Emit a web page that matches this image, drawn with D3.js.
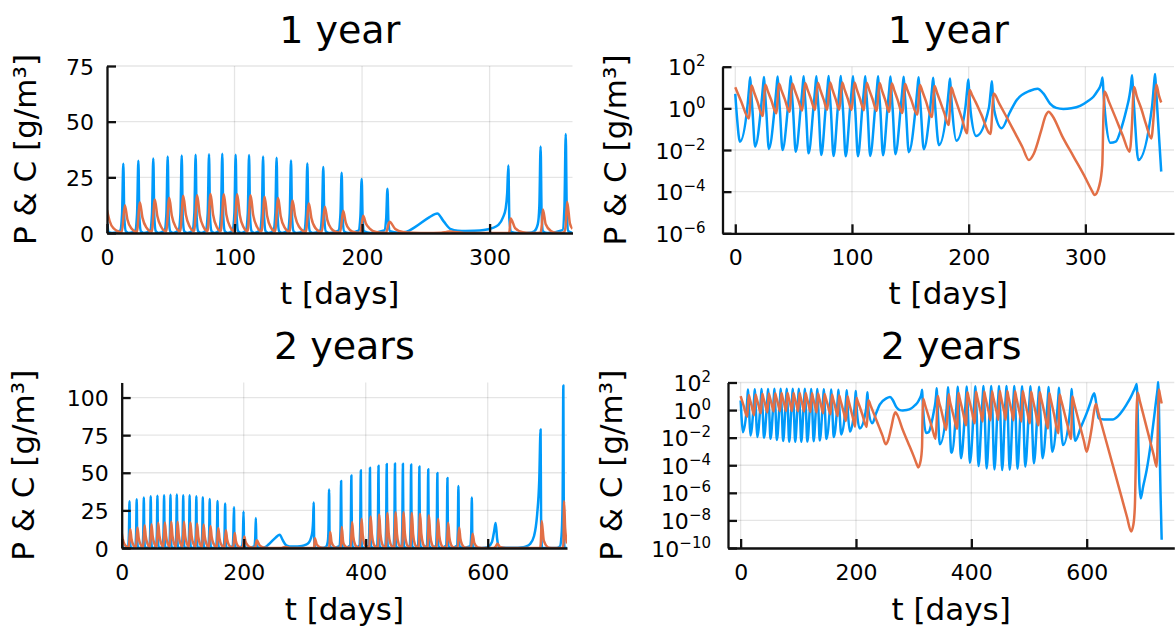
<!DOCTYPE html>
<html>
<head>
<meta charset="utf-8">
<script src="https://cdn.jsdelivr.net/npm/d3@7"></script>
<style>
  body { margin: 0; background: #fff; }
  svg { display: block; }
  text { font-family: "DejaVu Sans", sans-serif; fill: #000; }
</style>
</head>
<body>
<svg id="fig" width="1176" height="630"></svg>
<script>
// Prey P (blue) over two years: [day, g/m³]
const prey = [
  [0, 5], [1.5, 0.35], [4, 0.025],
  [10.3, 1.1], [11.8, 8.5], [12.8, 31.1], [13.6, 6.5], [14.8, 0.7], [17, 0.0145],
  [22.1, 1.1], [23.6, 9], [24.6, 32.4], [25.4, 7], [26.6, 0.7], [28.8, 0.0112],
  [33.8, 1.1], [35.3, 9], [36.3, 33.5], [37.1, 7], [38.3, 0.7], [40.5, 0.01],
  [45.1, 1.1], [46.6, 9], [47.6, 34.4], [48.4, 7], [49.6, 0.7], [51.8, 0.0083],
  [56.1, 1.1], [57.6, 9], [58.6, 34.8], [59.4, 7], [60.6, 0.7], [62.8, 0.0069],
  [67, 1.1], [68.5, 9], [69.5, 35.1], [70.3, 7], [71.5, 0.7], [73.7, 0.0058],
  [77.5, 1.1], [79, 9], [80, 35.4], [80.8, 7], [82, 0.7], [84.2, 0.0051],
  [87.9, 1.1], [89.4, 9], [90.4, 35.6], [91.2, 7], [92.4, 0.7], [94.6, 0.005],
  [98.4, 1.1], [99.9, 9], [100.9, 35.1], [101.7, 7], [102.9, 0.7], [105.1, 0.005],
  [108.9, 1.1], [110.4, 9], [111.4, 35], [112.2, 7], [113.4, 0.7], [115.6, 0.0052],
  [119.9, 1.1], [121.4, 9], [122.4, 34.4], [123.2, 7], [124.4, 0.7], [126.6, 0.0056],
  [130.5, 1.1], [132, 9], [133, 33.8], [133.8, 7], [135, 0.7], [137.2, 0.0063],
  [141.8, 1.1], [143.3, 9], [144.3, 32.6], [145.1, 7], [146.3, 0.7], [148.7, 0.0079],
  [154.6, 1.1], [156.1, 9], [157.1, 31.2], [157.9, 7], [159.1, 0.7], [161.5, 0.011],
  [167.1, 1.1], [168.6, 8.5], [169.6, 29.6], [170.4, 6.5], [171.6, 0.7], [174.5, 0.017],
  [181.5, 1.1], [183, 8], [184, 27.1], [184.8, 6], [186, 0.7], [189.5, 0.028],
  [197.2, 1.1], [198.7, 7.5], [199.7, 24.3], [200.5, 5.5], [201.7, 0.7], [206.5, 0.047],
  [217.4, 1.1], [218.9, 6.5], [219.9, 19.9], [220.7, 4.5], [221.9, 0.8], [228.3, 0.11],
  [235, 0.6], [241.2, 2.5], [252.6, 7], [259, 8.8], [264, 5.2], [269.7, 1.7], [275, 1.05],
  [281.1, 0.93], [288, 1.0], [295.5, 1.3], [302, 2.2], [306.9, 3.6], [310.5, 7], [312.6, 11],
  [313.8, 18], [314.7, 30.3], [315.5, 6], [317, 0.5], [321.5, 0.022],
  [326, 0.025], [331, 0.12], [335, 0.8], [337.8, 4], [339, 12], [340, 38.9], [340.8, 8], [342, 0.7], [345.4, 0.0033],
  [357.2, 1.3], [358.7, 12], [359.7, 44.5], [360.5, 10], [361.7, 0.8], [365, 0.00092], [366, 0.0008],
  [374, 1.5], [375.5, 13], [376.5, 48.2], [377.3, 10], [378.5, 1], [382, 0.00032],
  [389.5, 1.5], [391, 13], [392, 51.6], [392.8, 10], [394, 1], [397.5, 0.00015],
  [404.5, 1.5], [406, 14], [407, 53.4], [407.8, 11], [409, 1], [412.5, 0.000087],
  [418.5, 1.5], [420, 14], [421, 54.7], [421.8, 11], [423, 1], [426.5, 0.000059],
  [432, 1.5], [433.5, 14], [434.5, 55.8], [435.3, 11], [436.5, 1], [440, 0.00005],
  [445.5, 1.5], [447, 14], [448, 56.2], [448.8, 11], [450, 1], [453.5, 0.000045],
  [458.5, 1.5], [460, 14], [461, 56], [461.8, 11], [463, 1], [466.5, 0.000047],
  [472, 1.5], [473.5, 14], [474.5, 55.5], [475.3, 11], [476.5, 1], [480, 0.000056],
  [485.5, 1.5], [487, 14], [488, 54.2], [488.8, 11], [490, 1], [493.5, 0.000079],
  [500, 1.5], [501.5, 13], [502.5, 52.4], [503.3, 10], [504.5, 1], [508.5, 0.00014],
  [515, 1.5], [516.5, 13], [517.5, 49.8], [518.3, 10], [519.5, 1], [523.5, 0.00032],
  [531.5, 1.5], [533, 12], [534, 46.5], [534.8, 9], [536, 1], [540.5, 0.00095],
  [549.5, 1.5], [551, 11], [552, 41.2], [552.8, 8.5], [554, 1], [559, 0.0029],
  [571.5, 1.3], [573, 9.5], [574, 33.6], [574.8, 7], [576, 0.8], [580, 0.006],
  [590, 0.06], [600, 0.6], [607, 4], [610.5, 11], [613, 16.6], [615.5, 6], [618, 1], [621, 0.25],
  [630, 0.21], [645, 0.21], [654, 0.35], [662, 0.9], [669, 2.5], [676, 8], [681, 22], [684.5, 45],
  [686.7, 78.8], [687.5, 20], [689, 0.05], [691, 0.00001], [693.6, 4e-7], [698, 3e-6], [704, 4.5e-5],
  [712.7, 0.012], [718.4, 1], [721, 8], [722.8, 30], [724, 108], [724.8, 15], [726, 0.03],
  [728, 1e-6], [730, 4e-10]
];

// Predator C (orange) over two years: [day, g/m³]
const predator = [
  [0, 10.3], [2, 5.5], [5, 2.2], [11.6, 0.33],
  [14, 12.5], [16, 6.1], [19, 2.1], [23.4, 0.43],
  [25.8, 13.7], [27.8, 6.9], [30.8, 2.5], [35.1, 0.58],
  [37.5, 15.1], [39.5, 7.5], [42.5, 2.7], [46.4, 0.69],
  [48.8, 15.8], [50.8, 7.9], [53.8, 2.7], [57.4, 0.78],
  [59.8, 16.7], [61.8, 8.3], [64.8, 2.9], [68.3, 0.83],
  [70.7, 17], [72.7, 8.1], [75.7, 2.7], [78.8, 0.85],
  [81.2, 17.5], [83.2, 8.2], [86.2, 2.6], [89.2, 0.85],
  [91.6, 17.4], [93.6, 8.2], [96.6, 2.7], [99.7, 0.83],
  [102.1, 17.4], [104.1, 8.1], [107.1, 2.6], [110.2, 0.8],
  [112.6, 17], [114.6, 8.2], [117.6, 2.8], [121.2, 0.74],
  [123.6, 16.3], [125.6, 7.5], [128.6, 2.4], [131.8, 0.68],
  [134.2, 15.7], [136.2, 7.5], [139.2, 2.5], [143.1, 0.6],
  [145.5, 14.6], [147.5, 7.6], [150.5, 2.9], [155.9, 0.5],
  [158.3, 13.3], [160.3, 6.6], [163.3, 2.3], [168.4, 0.38],
  [170.8, 11.8], [172.8, 5.8], [175.8, 2.0], [179, 0.62], [182.8, 0.16],
  [185.2, 10], [187.2, 4.7], [190.2, 1.5], [194.2, 0.33], [198.5, 0.063],
  [200.9, 7.7], [202.9, 4.4], [206, 2.0], [210.9, 0.5], [218.7, 0.059],
  [221.5, 5.1], [226, 1.8], [232, 0.43], [240, 0.061], [246, 0.014], [251.6, 0.0033],
  [256, 0.007], [262, 0.08], [266, 0.45], [268.5, 0.69], [272, 0.42], [280, 0.048],
  [290, 0.0047], [300, 0.00046], [305, 0.00013], [308, 0.00007], [312, 0.0002], [314.5, 0.002],
  [315.5, 0.5], [316.5, 6.5], [320, 2.2], [326, 0.34], [332, 0.05], [337.9, 0.0083],
  [340, 0.2], [341, 4], [341.8, 10.6], [344, 3.9], [348, 0.93], [352, 0.17], [356.5, 0.036],
  [358.5, 0.4], [359.6, 3], [360.8, 14], [363, 4.2], [365, 1.9], [370, 0.28], [375.3, 0.045],
  [377.7, 17.3], [379.7, 7.6], [382.7, 2.2], [385.7, 0.64], [390.8, 0.079],
  [393.2, 19.5], [395.2, 8.6], [398.2, 2.5], [401.2, 0.73], [405.8, 0.11],
  [408.2, 21], [410.2, 9.0], [413.2, 2.5], [416.2, 0.7], [419.8, 0.15],
  [422.2, 22.2], [424.2, 9.3], [427.2, 2.5], [430.2, 0.7], [433.3, 0.18],
  [435.7, 23.2], [437.7, 9.8], [440.7, 2.7], [443.7, 0.75], [446.8, 0.2],
  [449.2, 23.7], [451.2, 9.6], [454.2, 2.5], [457.2, 0.64], [459.8, 0.2],
  [462.2, 23.7], [464.2, 9.8], [467.2, 2.6], [470.2, 0.7], [473.3, 0.18],
  [475.7, 23.2], [477.7, 9.4], [480.7, 2.4], [483.7, 0.62], [486.8, 0.15],
  [489.2, 22.8], [491.2, 9.5], [494.2, 2.5], [497.2, 0.68], [501.3, 0.11],
  [503.7, 21.7], [505.7, 8.9], [508.7, 2.3], [511.7, 0.62], [516.3, 0.079],
  [518.7, 19.5], [520.7, 8.3], [523.7, 2.3], [526.7, 0.63], [532.8, 0.047],
  [535.2, 16.8], [537.2, 7.1], [540.2, 2.0], [543.2, 0.55], [550.8, 0.021],
  [553.2, 13.7], [555.2, 6.4], [558.2, 2.1], [561.2, 0.66], [566.2, 0.098], [572.8, 0.008],
  [575.2, 9.5], [578, 3.4], [584, 0.36], [590, 0.039], [595, 0.0062], [600, 0.00095],
  [604, 0.004], [609, 0.06], [613, 0.9], [616, 2.8], [620, 0.69], [630, 0.021],
  [645, 0.00011], [660, 5.7e-7], [670, 1.7e-8], [677, 1.6e-9], [681, 5e-9], [683.5, 1e-7],
  [685, 0.0001], [686, 0.1], [687, 3], [688.5, 18], [692, 4.8], [700, 0.24], [710, 0.0056],
  [716, 0.00059], [721.3, 0.000079], [722.5, 0.001], [723.5, 0.1], [724.3, 5], [725.2, 31],
  [727, 13], [730, 3]
];

// Axis ticks and labels
const daysTicksYear = [0, 100, 200, 300];
const daysTicksTwoYears = [0, 200, 400, 600];
const linTicksYear = [0, 25, 50, 75];
const linTicksTwoYears = [0, 25, 50, 75, 100];
const logExpYear = [2, 0, -2, -4, -6];
const logExpTwoYears = [2, 0, -2, -4, -6, -8, -10];
const titles = ["1 year", "2 years"];
const xLabel = "t [days]";
const yLabel = "P & C [g/m³]";

const BLUE = "#009AFA";
const ORANGE = "#E26F46";

const svg = d3.select("#fig");

const panels = [
  { id: "a", x0: 107, x1: 572.5, y0: 66, y1: 233, xDomain: [0, 365], tMax: 365,
    log: false, yDomain: [0, 75], yTicks: linTicksYear, xTicks: daysTicksYear,
    title: titles[0], titleY: 43, xLabelY: 304, yLabelX: 36 },
  { id: "b", x0: 722.5, x1: 1174, y0: 66.7, y1: 233.3, xDomain: [-10.95, 375.95], tMax: 365,
    log: true, yDomain: [1e-6, 1e2], yTicks: logExpYear, xTicks: daysTicksYear,
    title: titles[0], titleY: 43, xLabelY: 304, yLabelX: 626 },
  { id: "c", x0: 121.7, x1: 567, y0: 382.5, y1: 548, xDomain: [0, 730], tMax: 730,
    log: false, yDomain: [0, 110], yTicks: linTicksTwoYears, xTicks: daysTicksTwoYears,
    title: titles[1], titleY: 358.5, xLabelY: 619.5, yLabelX: 34 },
  { id: "d", x0: 728, x1: 1174.3, y0: 382.5, y1: 548, xDomain: [-21.9, 751.9], tMax: 730,
    log: true, yDomain: [1e-10, 1e2], yTicks: logExpTwoYears, xTicks: daysTicksTwoYears,
    title: titles[1], titleY: 358.5, xLabelY: 619.5, yLabelX: 622 }
];

const defs = svg.append("defs");

panels.forEach(p => {
  const x = d3.scaleLinear().domain(p.xDomain).range([p.x0, p.x1]);
  const y = p.log
    ? d3.scaleLog().domain(p.yDomain).range([p.y1, p.y0])
    : d3.scaleLinear().domain(p.yDomain).range([p.y1, p.y0]);
  const yTickValues = p.log ? p.yTicks.map(e => Math.pow(10, e)) : p.yTicks;

  const g = svg.append("g");

  // grid
  const grid = g.append("g").attr("stroke", "rgba(0,0,0,0.1)").attr("stroke-width", 1.3);
  grid.selectAll("line.gx").data(p.xTicks).join("line")
    .attr("x1", d => x(d)).attr("x2", d => x(d))
    .attr("y1", p.y0).attr("y2", p.y1);
  grid.selectAll("line.gy").data(yTickValues).join("line")
    .attr("x1", p.x0).attr("x2", p.x1)
    .attr("y1", d => y(d)).attr("y2", d => y(d));

  // series
  defs.append("clipPath").attr("id", "clip-" + p.id)
    .append("rect").attr("x", p.x0).attr("y", p.y0 - 2)
    .attr("width", p.x1 - p.x0).attr("height", p.y1 - p.y0 + 2);

  const line = d3.line()
    .x(d => x(d[0]))
    .y(d => y(d[1]))
    .curve(d3.curveMonotoneX);

  const series = g.append("g").attr("clip-path", "url(#clip-" + p.id + ")");
  [[prey, BLUE], [predator, ORANGE]].forEach(([data, color]) => {
    series.append("path")
      .datum(data.filter(d => d[0] <= p.tMax))
      .attr("d", line)
      .attr("fill", "none")
      .attr("stroke", color)
      .attr("stroke-width", 2.5)
      .attr("stroke-linejoin", "round");
  });

  // axes
  const xAxis = d3.axisBottom(x).tickValues(p.xTicks).tickFormat(d3.format("d"))
    .tickSizeInner(-9).tickSizeOuter(0).tickPadding(16);
  const gx = g.append("g").attr("transform", `translate(0,${p.y1})`).call(xAxis);
  gx.selectAll("text").attr("font-size", 22).attr("font-family", "DejaVu Sans").attr("fill", "#000");

  const yAxis = d3.axisLeft(y).tickValues(yTickValues)
    .tickSizeInner(-9).tickSizeOuter(0).tickPadding(p.log ? 17 : 13);
  if (!p.log) yAxis.tickFormat(d3.format("d"));
  const gy = g.append("g").attr("transform", `translate(${p.x0},0)`).call(yAxis);
  gy.selectAll("text").attr("font-size", 22).attr("font-family", "DejaVu Sans").attr("fill", "#000");

  if (p.log) {
    gy.selectAll(".tick text").each(function(d) {
      const t = d3.select(this);
      const e = Math.round(Math.log10(d));
      t.text(null).attr("dy", null).attr("y", 8);
      t.append("tspan").text("10");
      t.append("tspan").attr("font-size", 15).attr("dy", -9)
        .text(e < 0 ? "\u2212" + Math.abs(e) : String(e));
    });
  } else {
    gy.selectAll(".tick text").attr("dy", null).attr("y", 8);
  }

  [gx, gy].forEach(ax => {
    ax.select(".domain").attr("stroke", "#111").attr("stroke-width", 2.3);
    ax.selectAll(".tick line").attr("stroke", "#111").attr("stroke-width", 2.3);
  });

  // labels
  const cx = (p.x0 + p.x1) / 2;
  const cy = (p.y0 + p.y1) / 2;
  g.append("text").attr("x", cx).attr("y", p.titleY)
    .attr("text-anchor", "middle").attr("font-size", 38).text(p.title);
  g.append("text").attr("x", cx).attr("y", p.xLabelY)
    .attr("text-anchor", "middle").attr("font-size", 31).text(xLabel);
  g.append("text")
    .attr("transform", `translate(${p.yLabelX},${cy}) rotate(-90)`)
    .attr("text-anchor", "middle").attr("font-size", 31).text(yLabel);
});
</script>
</body>
</html>
